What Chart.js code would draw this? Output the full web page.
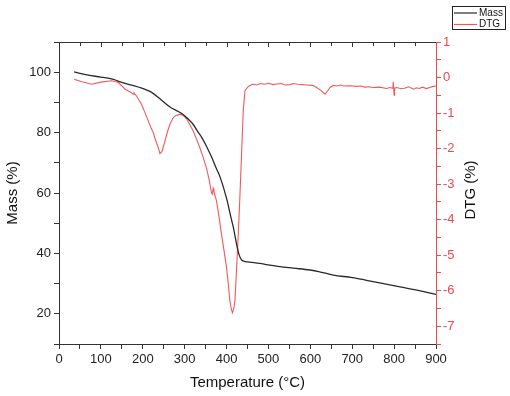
<!DOCTYPE html>
<html>
<head>
<meta charset="utf-8">
<script src="https://cdn.jsdelivr.net/npm/chart.js@4"></script>
<style>
  html, body { margin: 0; padding: 0; background: #fff; }
  #wrap { position: relative; width: 510px; height: 396px; }
</style>
</head>
<body>
<div id="wrap"><canvas id="tgaChart" width="510" height="396"></canvas></div>
<script>
// mass curve (left axis)
const massTemp = [36, 70, 100, 130, 150, 189, 221, 245, 265, 293, 309, 321, 329, 340, 352, 364, 376, 384, 400, 412, 416, 424, 430, 436, 445, 460, 492, 527, 560, 599, 620, 655, 700, 734, 814, 860, 900];
const massVal  = [100.1, 99, 98.4, 97.6, 96.6, 95.1, 93.3, 90.7, 88.5, 86.3, 84.4, 82.6, 80.8, 78.6, 75.5, 72, 68, 65.5, 58.2, 51, 48.8, 43, 39.5, 37.8, 37.3, 37, 36.4, 35.6, 35.1, 34.5, 34, 32.8, 32, 31.1, 28.9, 27.7, 26.4];

// DTG curve (right axis)
const dtgTemp = [36, 55, 78, 100, 126, 142, 158, 172, 177, 179, 185, 197, 205, 213, 219, 225, 231, 237, 241, 246, 253, 259, 265, 271, 277, 289, 297, 305, 312, 320, 328, 336, 344, 352, 358, 364, 366, 368, 370, 376, 382, 388, 394, 400, 404, 408, 411, 414, 417, 420, 424, 428, 432, 436, 440, 444, 452, 462, 472, 481, 490, 500, 511, 520, 530, 540, 551, 560, 570, 580, 591, 605, 615, 625, 635, 641, 647, 655, 663, 672, 680, 695, 710, 720, 730, 740, 750, 765, 782, 790, 797, 798, 800, 801, 806, 815, 825, 835, 846, 853, 860, 868, 877, 885, 893, 900];
const dtgVal  = [-0.05, -0.12, -0.19, -0.13, -0.09, -0.14, -0.33, -0.42, -0.47, -0.43, -0.52, -0.75, -0.98, -1.22, -1.4, -1.55, -1.78, -1.97, -2.14, -2.08, -1.78, -1.52, -1.31, -1.16, -1.08, -1.03, -1.07, -1.17, -1.32, -1.5, -1.72, -1.97, -2.24, -2.54, -2.85, -3.24, -3.28, -3.12, -3.22, -3.47, -3.92, -4.41, -4.88, -5.35, -5.8, -6.29, -6.5, -6.62, -6.52, -6.29, -5.35, -4.41, -3.3, -2.1, -0.9, -0.37, -0.25, -0.19, -0.21, -0.17, -0.19, -0.16, -0.2, -0.18, -0.17, -0.21, -0.2, -0.17, -0.19, -0.2, -0.21, -0.22, -0.28, -0.36, -0.47, -0.38, -0.28, -0.22, -0.24, -0.21, -0.24, -0.23, -0.25, -0.24, -0.27, -0.26, -0.28, -0.27, -0.31, -0.28, -0.3, -0.12, -0.5, -0.3, -0.28, -0.31, -0.3, -0.26, -0.33, -0.29, -0.31, -0.27, -0.31, -0.28, -0.25, -0.24];

const seriesNames = ['Mass', 'DTG'];
const xTitle = 'Temperature (°C)';
const yTitle = 'Mass (%)';
const y1Title = 'DTG (%)';

const RED = '#ee4a4c';
const FONT = 'Liberation Sans, Arial, sans-serif';

function pts(xs, ys) {
  return xs.map((x, i) => ({ x: x, y: ys[i] }));
}

// top frame line with inward ticks, right title (reads upward) + small legend box
const framePlugin = {
  id: 'frame',
  afterDraw(chart) {
    const ctx = chart.ctx;
    const a = chart.chartArea;
    const xs = chart.scales.x;
    ctx.save();
    ctx.strokeStyle = '#333';
    ctx.lineWidth = 1;
    ctx.beginPath();
    ctx.moveTo(a.left, a.top + 0.5);
    ctx.lineTo(a.right, a.top + 0.5);
    xs.ticks.forEach(t => {
      const px = Math.round(xs.getPixelForValue(t.value)) + 0.5;
      if (t.value > 0 && t.value < 900) {
        ctx.moveTo(px, a.top);
        ctx.lineTo(px, a.top + (t.value % 100 === 0 ? 5 : 4));
      }
    });
    ctx.stroke();

    // right axis title
    ctx.save();
    ctx.translate(471, (a.top + a.bottom) / 2 - 3);
    ctx.rotate(-Math.PI / 2);
    ctx.font = '15px ' + FONT;
    ctx.fillStyle = '#111';
    ctx.textAlign = 'center';
    ctx.textBaseline = 'middle';
    ctx.fillText(y1Title, 0, 0);
    ctx.restore();

    // legend
    const lx = 452, ly = 6, lw = 53, lh = 23;
    ctx.strokeStyle = '#222';
    ctx.strokeRect(lx + 0.5, ly + 0.5, lw, lh);
    ctx.font = '10px ' + FONT;
    ctx.textBaseline = 'middle';
    chart.data.datasets.forEach((ds, i) => {
      const yy = ly + 7 + i * 11.5;
      ctx.strokeStyle = ds.borderColor;
      ctx.lineWidth = 1.2;
      ctx.beginPath();
      ctx.moveTo(lx + 2, yy);
      ctx.lineTo(lx + 25, yy);
      ctx.stroke();
      ctx.fillStyle = '#111';
      ctx.fillText(ds.label, lx + 27, yy);
    });
    ctx.restore();
  }
};

new Chart(document.getElementById('tgaChart'), {
  type: 'line',
  data: {
    datasets: [{
      label: seriesNames[0],
      data: pts(massTemp, massVal),
      borderColor: '#2a2a2a',
      borderWidth: 1.3,
      pointRadius: 0,
      cubicInterpolationMode: 'monotone',
      yAxisID: 'y'
    }, {
      label: seriesNames[1],
      data: pts(dtgTemp, dtgVal),
      borderColor: '#f05a5c',
      borderWidth: 1.1,
      pointRadius: 0,
      tension: 0,
      yAxisID: 'y1'
    }]
  },
  options: {
    responsive: false,
    animation: false,
    layout: { padding: { top: 42, left: 0, right: 0, bottom: 0 } },
    plugins: { legend: { display: false }, tooltip: { enabled: false } },
    scales: {
      x: {
        type: 'linear',
        min: 0, max: 900,
        afterFit(s) { s.height = 52; },
        border: { display: true, color: '#333', width: 1 },
        grid: { drawOnChartArea: false, drawTicks: true, tickLength: 5, color: '#333' },
        ticks: {
          stepSize: 50, autoSkip: false, maxRotation: 0, padding: 3,
          color: '#222', font: { family: FONT, size: 13 },
          callback: v => (v % 100 === 0 ? v : '')
        },
        title: { display: true, text: xTitle, color: '#111', font: { family: FONT, size: 15 }, padding: { top: 4 } }
      },
      y: {
        position: 'left',
        min: 10, max: 110,
        afterFit(s) { s.width = 59; },
        border: { display: true, color: '#333', width: 1 },
        grid: { drawOnChartArea: false, drawTicks: true, tickLength: 5, color: '#333' },
        ticks: {
          stepSize: 10, autoSkip: false, padding: 3,
          color: '#222', font: { family: FONT, size: 13 },
          callback: v => (v % 20 === 0 ? v : '')
        },
        title: { display: true, text: yTitle, color: '#111', font: { family: FONT, size: 15 }, padding: { bottom: 4 } }
      },
      y1: {
        position: 'right',
        min: -7.5, max: 1,
        afterFit(s) { s.width = 74; },
        border: { display: true, color: RED, width: 1 },
        grid: { drawOnChartArea: false, drawTicks: true, tickLength: 5, color: RED },
        ticks: {
          stepSize: 0.5, autoSkip: false, padding: 2,
          color: RED, font: { family: FONT, size: 13 },
          callback: v => (Number.isInteger(v) ? v : '')
        },
        title: { display: false }
      }
    }
  },
  plugins: [framePlugin]
});
</script>
</body>
</html>
